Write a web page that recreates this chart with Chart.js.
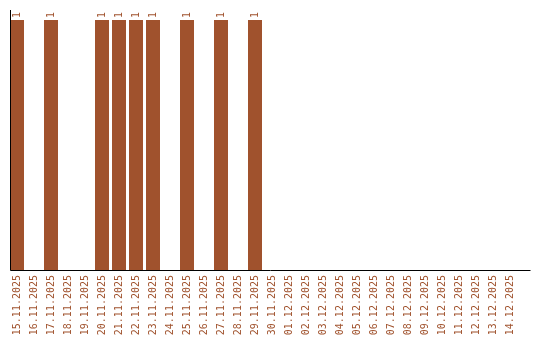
<!DOCTYPE html>
<html>
<head>
<meta charset="utf-8">
<style>
  html, body { margin: 0; padding: 0; background: #fff; }
  #wrap { width: 540px; height: 340px; }
</style>
</head>
<body>
<div id="wrap"><canvas id="chart"></canvas></div>
<script src="https://cdn.jsdelivr.net/npm/chart.js"></script>
<script>
const days = [
  '15.11.2025', '16.11.2025', '17.11.2025', '18.11.2025', '19.11.2025',
  '20.11.2025', '21.11.2025', '22.11.2025', '23.11.2025', '24.11.2025',
  '25.11.2025', '26.11.2025', '27.11.2025', '28.11.2025', '29.11.2025',
  '30.11.2025', '01.12.2025', '02.12.2025', '03.12.2025', '04.12.2025',
  '05.12.2025', '06.12.2025', '07.12.2025', '08.12.2025', '09.12.2025',
  '10.12.2025', '11.12.2025', '12.12.2025', '13.12.2025', '14.12.2025'
];
const counts = [
  1, 0, 1, 0, 0,
  1, 1, 1, 1, 0,
  1, 0, 1, 0, 1,
  0, 0, 0, 0, 0,
  0, 0, 0, 0, 0,
  0, 0, 0, 0, 0
];

const BAR = '#a0522d';
const FONT = '"DejaVu Sans Mono", "Liberation Mono", monospace';

// rotated value labels above each non-zero bar
const valueLabels = {
  id: 'valueLabels',
  afterDatasetsDraw(chart) {
    const ctx = chart.ctx;
    const meta = chart.getDatasetMeta(0);
    ctx.save();
    ctx.fillStyle = BAR;
    ctx.font = '10px ' + FONT;
    ctx.textAlign = 'left';
    ctx.textBaseline = 'middle';
    meta.data.forEach((bar, i) => {
      if (!counts[i]) return;
      ctx.save();
      ctx.translate(bar.x, bar.y - 2);
      ctx.rotate(-Math.PI / 2);
      ctx.fillText(String(counts[i]), 0, 0);
      ctx.restore();
    });
    ctx.restore();
  }
};

// axis lines: y axis at the left edge of the first bar, x axis running a bit past the last slot
const axisLines = {
  id: 'axisLines',
  afterDraw(chart) {
    const ctx = chart.ctx;
    const area = chart.chartArea;
    const bar = chart.getDatasetMeta(0).data[0];
    const left = Math.round(bar.x - bar.width / 2);
    ctx.save();
    ctx.strokeStyle = '#000';
    ctx.lineWidth = 1;
    ctx.beginPath();
    ctx.moveTo(left + 0.5, chart.scales.y.getPixelForValue(1.04));
    ctx.lineTo(left + 0.5, area.bottom + 0.5);
    ctx.lineTo(area.right + 12, area.bottom + 0.5);
    ctx.stroke();
    ctx.restore();
  }
};

new Chart(document.getElementById('chart'), {
  type: 'bar',
  data: {
    labels: days,
    datasets: [{
      data: counts,
      backgroundColor: BAR,
      borderWidth: 0,
      categoryPercentage: 1,
      barPercentage: 14 / 17
    }]
  },
  options: {
    responsive: true,
    maintainAspectRatio: false,
    animation: false,
    layout: { padding: { left: 0, top: 10, right: 21.5, bottom: 0 } },
    plugins: {
      legend: { display: false },
      tooltip: { enabled: false }
    },
    scales: {
      x: {
        grid: { display: false, drawTicks: false },
        border: { display: false },
        afterFit: (scale) => { scale.height = 70; },
        ticks: {
          autoSkip: false,
          minRotation: 90,
          maxRotation: 90,
          padding: 5,
          color: BAR,
          font: { family: FONT, size: 10 }
        }
      },
      y: {
        min: 0,
        max: 1.04,
        grid: { display: false, drawTicks: false },
        border: { display: false },
        afterFit: (scale) => { scale.width = 8.5; },
        ticks: { display: false }
      }
    }
  },
  plugins: [valueLabels, axisLines]
});
</script>
</body>
</html>
